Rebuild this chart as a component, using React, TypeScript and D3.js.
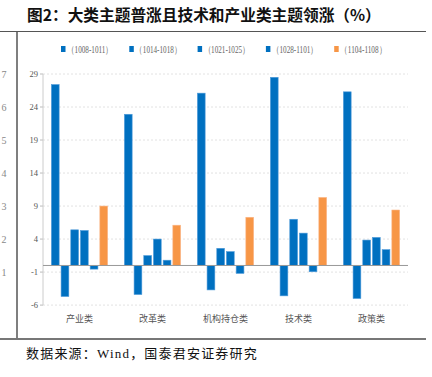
import React from 'react';
import * as d3 from 'd3';

const categories = ['产业类', '改革类', '机构持仓类', '技术类', '政策类'];
const seriesA = [27.4, 22.9, 26.1, 28.5, 26.3];
const seriesB = [-4.7, -4.4, -3.7, -4.6, -5.0];
const seriesC = [5.4, 1.5, 2.6, 7.0, 3.85];
const seriesD = [5.3, 4.0, 2.1, 4.9, 4.25];
const seriesE = [-0.55, 0.8, -1.2, -0.95, 2.4];
const seriesF = [9.0, 6.1, 7.3, 10.3, 8.4];
const seriesValues = [seriesA, seriesB, seriesC, seriesD, seriesE, seriesF];
const seriesKeys = ['s0', 's1', 's2', 's3', 's4', 's5'];
const legendLabels = ['（1008-1011）', '（1014-1018）', '（1021-1025）', '（1028-1101）', '（1104-1108）'];
const yTicks = [-6, -1, 4, 9, 14, 19, 24, 29];
const outerLabels = ['7', '6', '5', '4', '3', '2', '1'];

const BLUE = '#0070C0';
const ORANGE = '#F79646';
const colors = [BLUE, BLUE, BLUE, BLUE, BLUE, ORANGE];
const strokes = ['#4F9BDA', '#4F9BDA', '#4F9BDA', '#4F9BDA', '#4F9BDA', '#FBB585'];

const SERIF = '"Liberation Serif", "DejaVu Serif", serif';
const CJK = '"Noto Sans CJK SC", "Noto Sans", sans-serif';

export default function App() {
  const plotL = 43, plotR = 408;
  const y = d3.scaleLinear().domain([-6, 29]).range([305.1, 74]);
  const x0 = d3.scaleBand<string>().domain(categories).range([plotL, plotR]).paddingInner(0.23).paddingOuter(0.115);
  const x1 = d3.scaleBand<string>().domain(seriesKeys).range([0, x0.bandwidth()]).paddingInner(0.2).paddingOuter(0);
  const y0 = y(0);

  return (
    <svg width={432} height={377} style={{ position: 'absolute', left: 0, top: 0, background: '#fff' }}>
      {/* title */}
      <text x={27} y={21} fontFamily={CJK} fontWeight="bold" fontSize={15.7} fill="#111">
        图2：大类主题普涨且技术和产业类主题领涨（%）
      </text>
      {/* frame */}
      <line x1={0} x2={426} y1={31.5} y2={31.5} stroke="#555" strokeWidth={1.2} />
      <line x1={17} x2={17} y1={31.5} y2={339} stroke="#555" strokeWidth={1.5} />
      <line x1={0} x2={426} y1={339} y2={339} stroke="#777" strokeWidth={2} />

      {/* outer labels */}
      {outerLabels.map((l, i) => (
        <text key={l} x={4} y={y(yTicks[yTicks.length - 1 - i]) + 3.5} fontFamily={SERIF} fontSize={10} fill="#888" textAnchor="middle">
          {l}
        </text>
      ))}

      {/* grid */}
      {yTicks.map((t) => (
        <g key={t}>
          {t !== 0 && (
            <line x1={plotL} x2={plotR} y1={y(t)} y2={y(t)} stroke="#e2e2e2" strokeWidth={1} strokeDasharray="2,2" />
          )}
          <line x1={plotL - 3} x2={plotL} y1={y(t)} y2={y(t)} stroke="#bbb" strokeWidth={1} />
          <text x={38} y={y(t) + 3} fontFamily={SERIF} fontSize={8.5} fill="#555" textAnchor="end">
            {t}
          </text>
        </g>
      ))}
      <line x1={plotL} x2={plotL} y1={y(29)} y2={y(-6)} stroke="#ccc" strokeWidth={1} />

      {/* bars */}
      {categories.map((c, ci) => (
        <g key={c} transform={`translate(${x0(c)},0)`}>
          {seriesValues.map((vals, si) => {
            const v = vals[ci];
            const top = Math.min(y(v), y0);
            const h = Math.abs(y(v) - y0);
            return (
              <rect
                key={si}
                x={x1(seriesKeys[si])}
                y={top}
                width={x1.bandwidth()}
                height={h}
                fill={colors[si]}
                stroke={strokes[si]}
                strokeWidth={0.6}
              />
            );
          })}
        </g>
      ))}
      <line x1={plotL} x2={plotR} y1={y0} y2={y0} stroke="#999" strokeWidth={1} />

      {/* category labels */}
      {categories.map((c) => (
        <text key={c} x={(x0(c) as number) + x0.bandwidth() / 2} y={322} fontFamily={CJK} fontSize={9} fill="#555" textAnchor="middle">
          {c}
        </text>
      ))}

      {/* legend */}
      {legendLabels.map((l, i) => {
        const lx = 61 + i * 68.3;
        return (
          <g key={l}>
            <rect x={lx} y={46} width={4.5} height={6} fill={colors[i + 1]} />
            <text x={lx + 6} y={52.5} fontFamily={SERIF} fontSize={9.5} fill="#666" textLength={46} lengthAdjust="spacingAndGlyphs">
              {l}
            </text>
          </g>
        );
      })}

      {/* source */}
      <text x={26} y={358} fontFamily={`"Liberation Serif", "Noto Sans CJK SC", serif`} fontSize={13} fill="#111" letterSpacing={1.2}>
        数据来源：Wind，国泰君安证券研究
      </text>
    </svg>
  );
}
